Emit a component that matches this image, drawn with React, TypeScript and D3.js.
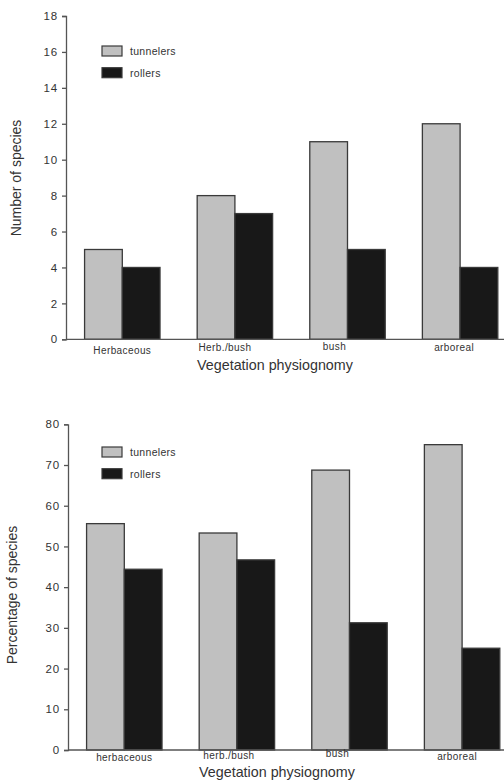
import * as d3 from 'd3';
import React, { useEffect, useRef } from 'react';

// data
const categoriesTop = ['Herbaceous', 'Herb./bush', 'bush', 'arboreal'];
const categoriesBottom = ['herbaceous', 'herb./bush', 'bush', 'arboreal'];
const seriesNames = ['tunnelers', 'rollers'];
const tunnelersCount = [5, 8, 11, 12];
const rollersCount = [4, 7, 5, 4];
const tunnelersPct = [55.6, 53.3, 68.75, 75];
const rollersPct = [44.4, 46.7, 31.25, 25];
const ticksTop = [0, 2, 4, 6, 8, 10, 12, 14, 16, 18];
const ticksBottom = [0, 10, 20, 30, 40, 50, 60, 70, 80];

const colors = ['#c0c0c0', '#181818'];
const font = 'Arial, "Liberation Sans", sans-serif';

export default function App() {
  const ref = useRef<SVGSVGElement>(null);

  useEffect(() => {
    const svg = d3.select(ref.current);
    svg.selectAll('*').remove();

    function drawPanel(opts: any) {
      const g = svg.append('g');
      const y = d3.scaleLinear().domain(opts.domain).range([opts.y0, opts.y1]);
      const x = d3.scaleBand().domain(opts.cats).range([opts.x0, opts.x0 + 450.4]).paddingInner(0.33).paddingOuter(0.165);
      const xs = d3.scaleBand().domain(seriesNames).range([0, x.bandwidth()]);

      // bars
      opts.cats.forEach((c: string, i: number) => {
        [opts.a[i], opts.b[i]].forEach((v: number, j: number) => {
          g.append('rect')
            .attr('x', (x(c) as number) + (xs(seriesNames[j]) as number))
            .attr('y', y(v))
            .attr('width', xs.bandwidth())
            .attr('height', y(0) - y(v))
            .attr('fill', colors[j])
            .attr('stroke', '#3a3a3a')
            .attr('stroke-width', 1.3);
        });
      });

      // y axis
      const yAxis = d3.axisLeft(y).tickValues(opts.ticks).tickSize(4).tickPadding(4).tickFormat(d3.format('d'));
      const ya = g.append('g').attr('transform', `translate(${opts.x0},0)`).call(yAxis);
      ya.select('.domain').attr('stroke', '#555').attr('stroke-width', 1.3);
      ya.selectAll('line').attr('stroke', '#555').attr('stroke-width', 1.3);
      ya.selectAll('text').attr('font-family', font).attr('font-size', 11.5)
        .attr('letter-spacing', 0.8).attr('fill', '#333');

      // x axis line
      g.append('line')
        .attr('x1', opts.x0).attr('x2', 504)
        .attr('y1', y(0)).attr('y2', y(0))
        .attr('stroke', '#555').attr('stroke-width', 1.3);

      // category labels
      opts.cats.forEach((c: string, i: number) => {
        g.append('text')
          .attr('x', (x(c) as number) + x.bandwidth() / 2 + opts.labelDx[i])
          .attr('y', y(0) + opts.labelDy[i])
          .attr('text-anchor', 'middle')
          .attr('font-family', font)
          .attr('font-size', 10)
          .attr('letter-spacing', 0.4)
          .attr('fill', '#333')
          .text(c);
      });

      g.append('text')
        .attr('x', opts.titleX)
        .attr('y', opts.titleY)
        .attr('text-anchor', 'middle')
        .attr('font-family', font)
        .attr('font-size', 14.3)
        .attr('fill', '#333')
        .text('Vegetation physiognomy');

      g.append('text')
        .attr('transform', `translate(${opts.ylabelX},${opts.ylabelY}) rotate(-90)`)
        .attr('text-anchor', 'middle')
        .attr('font-family', font)
        .attr('font-size', 14)
        .attr('fill', '#333')
        .text(opts.ylabel);

      // legend
      seriesNames.forEach((s, j) => {
        g.append('rect')
          .attr('x', 102).attr('y', opts.legendY + j * 21.7)
          .attr('width', 20).attr('height', 10)
          .attr('fill', colors[j]).attr('stroke', '#3a3a3a').attr('stroke-width', 1.2);
        g.append('text')
          .attr('x', 130).attr('y', opts.legendY + j * 21.7 + 9)
          .attr('font-family', font)
          .attr('font-size', 10.5)
          .attr('letter-spacing', 0.3)
          .attr('fill', '#333')
          .text(s);
      });
    }

    drawPanel({
      domain: [0, 18], y0: 339.3, y1: 16, x0: 66,
      cats: categoriesTop, a: tunnelersCount, b: rollersCount, ticks: ticksTop,
      labelDx: [0, -10, -13, -6], labelDy: [15, 12, 11, 12],
      titleX: 275, titleY: 370, ylabel: 'Number of species', ylabelX: 21, ylabelY: 178, legendY: 46,
    });

    drawPanel({
      domain: [0, 80], y0: 750, y1: 424.3, x0: 68,
      cats: categoriesBottom, a: tunnelersPct, b: rollersPct, ticks: ticksBottom,
      labelDx: [0, -8, -12, -5], labelDy: [11, 9, 7, 10],
      titleX: 277, titleY: 777, ylabel: 'Percentage of species', ylabelX: 17, ylabelY: 595, legendY: 447,
    });
  }, []);

  return (
    <svg ref={ref} width={504} height={780} style={{ position: 'absolute', left: 0, top: 0, background: '#fff' }} />
  );
}
